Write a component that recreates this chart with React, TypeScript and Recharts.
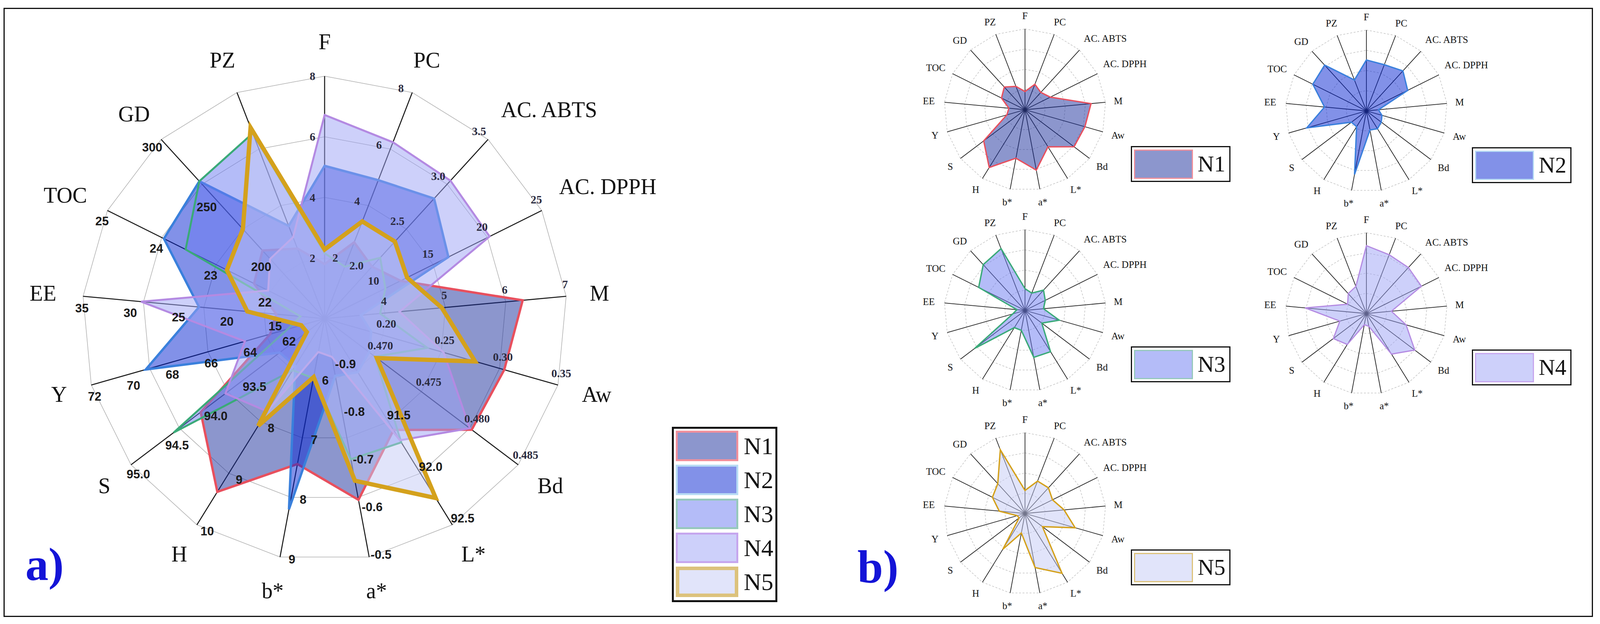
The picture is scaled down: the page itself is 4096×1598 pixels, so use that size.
import { PolarAngleAxis, PolarGrid, PolarRadiusAxis, Radar, RadarChart } from "recharts"

// axes, clockwise from the top
const AXES = ["F", "PC", "AC. ABTS", "AC. DPPH", "M", "Aw", "Bd", "L*", "a*", "b*", "H", "S", "Y", "EE", "TOC", "GD", "PZ"]
const AXIS_MIN = [0, 0, 1.5, 5, 3, 0.15, 0.465, 90.5, -1.0, 5, 6, 92.5, 60, 10, 21, 150, 0]
const AXIS_MAX = [8, 8, 3.5, 25, 7, 0.35, 0.485, 92.5, -0.5, 9, 10, 95.0, 72, 35, 25, 300, 1]
const AXIS_TICKS = [
  ["8", "6", "4", "2"],
  ["8", "6", "4", "2"],
  ["3.5", "3.0", "2.5", "2.0"],
  ["25", "20", "15", "10"],
  ["7", "6", "5", "4"],
  ["0.35", "0.30", "0.25", "0.20"],
  ["0.485", "0.480", "0.475", "0.470"],
  ["92.5", "92.0", "91.5"],
  ["-0.5", "-0.6", "-0.7", "-0.8", "-0.9"],
  ["9", "8", "7", "6"],
  ["10", "9", "8"],
  ["95.0", "94.5", "94.0", "93.5"],
  ["72", "70", "68", "66", "64", "62"],
  ["35", "30", "25", "20", "15"],
  ["25", "24", "23", "22"],
  ["300", "250", "200"],
  [],
]
const SERIF_TICK_AXES = ["F", "PC", "AC. ABTS", "AC. DPPH", "M", "Aw", "Bd"]

const N1 = [1.8, 2.7, 2.08, 12.0, 6.28, 0.304, 0.4802, 91.58, -0.62, 7.44, 9.36, 94.1, 62.8, 15.0, 22.3, 207, 0.31]
const N2 = [5.04, 4.9, 2.84, 16.4, 3.6, 0.19, 0.4696, 91.02, -0.88, 8.2, 6.92, 93.08, 69.2, 23.0, 23.96, 265, 0.41]
const N3 = [2.16, 1.84, 2.18, 10.6, 3.92, 0.238, 0.4702, 91.7, -0.705, 6.0, 7.0, 94.45, 61.9, 12.5, 23.56, 265, 0.82]
const N4 = [6.72, 6.24, 3.04, 20.2, 4.24, 0.252, 0.48, 91.68, -0.92, 5.56, 7.8, 93.78, 64.1, 29.0, 22.04, 200, 0.36]
const N5 = [2.28, 3.44, 2.36, 12.6, 4.94, 0.279, 0.4704, 92.24, -0.66, 5.98, 8.08, 92.73, 61.2, 18.0, 22.8, 225, 0.845]

const SERIES = [
  { name: "N1", values: N1, fill: "#192d9b", stroke: "#e8505e", big: 6, small: 3.5, swatch: "#f0909c" },
  { name: "N2", values: N2, fill: "#0523d1", stroke: "#3a80dc", big: 6, small: 3.5, swatch: "#b8dcf4" },
  { name: "N3", values: N3, fill: "#6979f1", stroke: "#3aaa78", big: 5, small: 3.5, swatch: "#96c8bc" },
  { name: "N4", values: N4, fill: "#9ba1f5", stroke: "#b48ae2", big: 5, small: 3, swatch: "#c6a6ee" },
  { name: "N5", values: N5, fill: "#c3c9f5", stroke: "#d4a11c", big: 11, small: 3.5, swatch: "#dcc27c" },
]
const FILL_OPACITY = 0.5

// every axis has its own scale, so the chart plots the position within [min, max]
const rows = AXES.map((axis, i) => {
  const span = AXIS_MAX[i] - AXIS_MIN[i]
  const row: Record<string, number | string> = { axis }
  SERIES.forEach((s) => {
    row[s.name] = (s.values[i] - AXIS_MIN[i]) / span
  })
  for (let j = 0; j < 6; j++) {
    const t = AXIS_TICKS[i][j]
    row[`t${j}`] = t === undefined ? 0 : (parseFloat(t) - AXIS_MIN[i]) / span
  }
  return row
})

const ZERO = { top: 0, right: 0, bottom: 0, left: 0 }
const SERIF = "'Liberation Serif', 'Times New Roman', serif"
const SANS = "'Liberation Sans', Arial, sans-serif"

const tint = (hex: string, a: number) => {
  const n = parseInt(hex.slice(1), 16)
  const ch = [(n >> 16) & 255, (n >> 8) & 255, n & 255].map((c) => Math.round(255 - a * (255 - c)))
  return `rgb(${ch.join(",")})`
}

function makeAxisLabel(cx: number, cy: number, R: number, fontSize: number, gap: number) {
  return (props: any) => {
    const text = String(props.payload.value)
    const a = (props.payload.coordinate * Math.PI) / 180
    const dx = Math.cos(a)
    const dy = -Math.sin(a)
    let x: number
    let y: number
    let anchor: "start" | "end" | "middle" = "middle"
    if (text.length > 4) {
      const r = R * 1.08
      x = cx + dx * r
      y = cy + dy * r - fontSize * 0.7
      anchor = dx >= 0 ? "start" : "end"
    } else {
      const r = R * (1 + gap)
      const w = text.length * 0.62 * fontSize
      const h = 0.72 * fontSize
      x = cx + dx * r + (dx * w) / 2
      y = cy + dy * r + (dy * h) / 2
    }
    return (
      <text x={x} y={y} textAnchor={anchor} dominantBaseline="central" fontFamily={SERIF} fontSize={fontSize} fill="#111">
        {text}
      </text>
    )
  }
}

function makeTickDot(j: number, CX: number, CY: number) {
  return (props: any) => {
    const i = props.index
    const label = AXIS_TICKS[i]?.[j]
    const key = `tk-${j}-${i}`
    if (!label) return <g key={key} />
    const vx = props.cx - CX
    const vy = props.cy - CY
    const len = Math.hypot(vx, vy) || 1
    const off = 31
    const serif = SERIF_TICK_AXES.includes(AXES[i])
    return (
      <text
        key={key}
        x={props.cx + (vy / len) * off}
        y={props.cy - (vx / len) * off}
        textAnchor="middle"
        dominantBaseline="central"
        fontFamily={serif ? SERIF : SANS}
        fontWeight="bold"
        fontSize={serif ? 29 : 31}
        fill={serif ? "#2b2b3f" : "#1b1b1b"}
      >
        {label}
      </text>
    )
  }
}

function BigRadar() {
  const CX = 831
  const CY = 816
  const R = 621
  return (
    <div style={{ position: "absolute", left: 0, top: 0 }}>
      <RadarChart width={1700} height={1598} data={rows} cx={CX} cy={CY} outerRadius={R} margin={ZERO}>
        <PolarGrid gridType="polygon" radialLines={false} stroke="#b0b0b0" strokeWidth={1.5} />
        <PolarGrid gridType="polygon" polarRadius={[0]} stroke="#1a1a1a" strokeWidth={2.6} />
        <PolarAngleAxis dataKey="axis" tick={makeAxisLabel(CX, CY, R, 56, 0.11)} axisLine={false} tickLine={false} />
        <PolarRadiusAxis domain={[0, 1]} tickCount={5} ticks={[0, 0.25, 0.5, 0.75, 1]} tick={false} axisLine={false} />
        {[0, 1, 2, 3, 4, 5].map((j) => (
          <Radar
            key={`t${j}`}
            dataKey={`t${j}`}
            stroke="none"
            fill="none"
            legendType="none"
            isAnimationActive={false}
            dot={makeTickDot(j, CX, CY)}
          />
        ))}
        {SERIES.map((s) => (
          <Radar
            key={s.name}
            name={s.name}
            dataKey={s.name}
            stroke={s.stroke}
            strokeWidth={s.big}
            fill={s.fill}
            fillOpacity={FILL_OPACITY}
            dot={false}
            isAnimationActive={false}
          />
        ))}
      </RadarChart>
    </div>
  )
}

function SmallRadar({ s, cx, cy }: { s: (typeof SERIES)[number]; cx: number; cy: number }) {
  const CX = 350
  const CY = 310
  const R = 207
  return (
    <div style={{ position: "absolute", left: cx - CX, top: cy - CY }}>
      <RadarChart width={700} height={620} data={rows} cx={CX} cy={CY} outerRadius={R} margin={ZERO}>
        <PolarGrid gridType="polygon" radialLines={false} stroke="#c4c4c4" strokeWidth={1.5} strokeDasharray="5 4" />
        <PolarGrid gridType="polygon" polarRadius={[0]} stroke="#222" strokeWidth={1.8} />
        <PolarAngleAxis dataKey="axis" tick={makeAxisLabel(CX, CY, R, 25, 0.12)} axisLine={false} tickLine={false} />
        <PolarRadiusAxis domain={[0, 1]} tickCount={5} ticks={[0, 0.25, 0.5, 0.75, 1]} tick={false} axisLine={false} />
        <Radar
          name={s.name}
          dataKey={s.name}
          stroke={s.stroke}
          strokeWidth={s.small}
          fill={s.fill}
          fillOpacity={FILL_OPACITY}
          dot={false}
          isAnimationActive={false}
        />
      </RadarChart>
    </div>
  )
}

function SmallLegend({ s, left, top }: { s: (typeof SERIES)[number]; left: number; top: number }) {
  return (
    <div
      style={{
        position: "absolute",
        left,
        top,
        width: 255,
        height: 92,
        border: "3.5px solid #111",
        boxSizing: "border-box",
        display: "flex",
        alignItems: "center",
        padding: "0 0 0 5px",
        background: "#fff",
      }}
    >
      <div
        style={{
          width: 151,
          height: 75,
          boxSizing: "border-box",
          border: `3px solid ${s.swatch}`,
          background: tint(s.fill, FILL_OPACITY),
        }}
      />
      <span style={{ marginLeft: 12, fontFamily: SERIF, fontSize: 58, lineHeight: 1, color: "#111" }}>{s.name}</span>
    </div>
  )
}

export default function App() {
  const small = [
    { cx: 2624, cy: 281, lx: 2895, ly: 374 },
    { cx: 3498, cy: 284, lx: 3768, ly: 377 },
    { cx: 2624, cy: 795, lx: 2895, ly: 887 },
    { cx: 3498, cy: 803, lx: 3768, ly: 895 },
    { cx: 2624, cy: 1315, lx: 2895, ly: 1407 },
  ]
  return (
    <div style={{ position: "absolute", left: 0, top: 0, width: 4096, height: 1598, background: "#fff", overflow: "hidden" }}>
      <BigRadar />

      <div
        style={{
          position: "absolute",
          left: 1720,
          top: 1093,
          width: 270,
          height: 449,
          border: "5px solid #111",
          boxSizing: "border-box",
          padding: "5px 0 0 5px",
          background: "#fff",
        }}
      >
        {SERIES.map((s) => (
          <div key={s.name} style={{ display: "flex", alignItems: "center", height: 78, marginBottom: 9 }}>
            <div
              style={{
                width: 160,
                height: 78,
                boxSizing: "border-box",
                border: `${s.name === "N5" ? 9 : 5}px solid ${s.swatch}`,
                background: tint(s.fill, FILL_OPACITY),
              }}
            />
            <span style={{ marginLeft: 14, fontFamily: SERIF, fontSize: 62, lineHeight: 1, color: "#111" }}>{s.name}</span>
          </div>
        ))}
      </div>

      {SERIES.map((s, i) => (
        <SmallRadar key={s.name} s={s} cx={small[i].cx} cy={small[i].cy} />
      ))}
      {SERIES.map((s, i) => (
        <SmallLegend key={s.name} s={s} left={small[i].lx} top={small[i].ly} />
      ))}

      <div style={{ position: "absolute", left: 65, top: 1387, fontFamily: SERIF, fontWeight: "bold", fontSize: 118, lineHeight: 1, color: "rgb(20,20,215)" }}>
        a)
      </div>
      <div style={{ position: "absolute", left: 2195, top: 1393, fontFamily: SERIF, fontWeight: "bold", fontSize: 118, lineHeight: 1, color: "rgb(20,20,215)" }}>
        b)
      </div>

      <div
        style={{
          position: "absolute",
          left: 9,
          top: 20,
          width: 4069,
          height: 1560,
          border: "3.5px solid #111",
          boxSizing: "border-box",
          pointerEvents: "none",
        }}
      />
    </div>
  )
}
